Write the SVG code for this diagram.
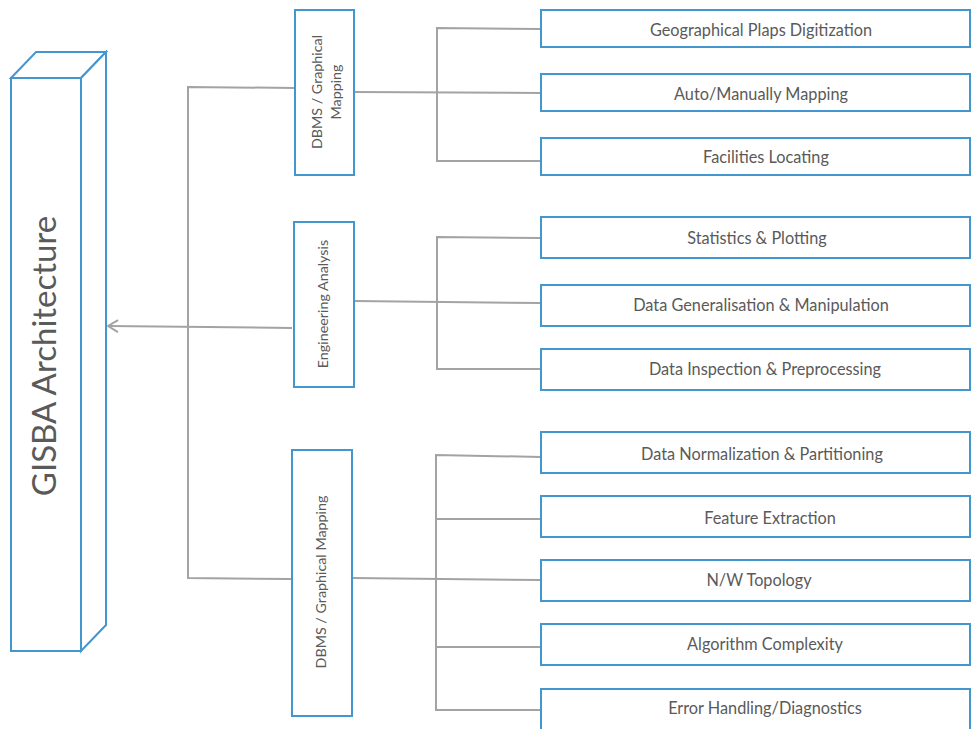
<svg xmlns="http://www.w3.org/2000/svg" width="971" height="729" viewBox="0 0 971 729">
  <style>
    .box { fill: #ffffff; stroke: #4496cf; stroke-width: 2; }
    .line { fill: none; stroke: #a3a3a3; stroke-width: 2; }
    .leaf { font-family: Lato, "Liberation Sans", sans-serif; font-size: 16.3px; fill: #5a5a5a; text-anchor: middle; dominant-baseline: central; }
    .grp { font-family: Lato, "Liberation Sans", sans-serif; font-size: 14.3px; fill: #5a5a5a; text-anchor: middle; dominant-baseline: central; }
    .title { font-family: Lato, "Liberation Sans", sans-serif; font-size: 33px; fill: #5a5a5a; text-anchor: middle; dominant-baseline: central; }
  </style>
  <defs>
    <marker id="open-arrow" viewBox="0 0 12 14" refX="11" refY="7" markerWidth="12" markerHeight="14" markerUnits="userSpaceOnUse" orient="auto">
      <path d="M1,1 L11,7 L1,13" fill="none" stroke="#a3a3a3" stroke-width="2"/>
    </marker>
  </defs>
  <rect width="971" height="729" fill="#ffffff"/>

  <!-- root cuboid -->
  <g id="root">
    <polygon class="box" points="11,78 36,52 106,52 81,78"/>
    <polygon class="box" points="81,78 106,52 106,625 81,651"/>
    <rect class="box" x="11" y="78" width="70" height="573"/>
    <text class="title" transform="translate(43,356) rotate(-90)">GISBA Architecture</text>
  </g>

  <!-- connectors -->
  <g id="connectors">
    <line class="line" x1="292" y1="328" x2="108" y2="326" marker-end="url(#open-arrow)"/>
    <polyline class="line" points="295,88 188,87 188,578 292,579"/>
    <!-- branch 1 -->
    <line class="line" x1="354" y1="92" x2="541" y2="93"/>
    <polyline class="line" points="541,29 437,28 437,161 541,161"/>
    <!-- branch 2 -->
    <line class="line" x1="354" y1="301" x2="541" y2="303"/>
    <polyline class="line" points="541,238 437,237 437,369 541,369"/>
    <!-- branch 3 -->
    <line class="line" x1="352" y1="578" x2="541" y2="580"/>
    <polyline class="line" points="541,457 436,455 436,710 541,710"/>
    <line class="line" x1="436" y1="519" x2="541" y2="519"/>
    <line class="line" x1="436" y1="647" x2="541" y2="647"/>
  </g>

  <!-- group nodes -->
  <g id="grp-dbms-top">
    <rect class="box" x="295" y="10" width="59" height="165"/>
    <text class="grp" transform="translate(316,92) rotate(-90)">DBMS / Graphical</text>
    <text class="grp" transform="translate(335,92) rotate(-90)">Mapping</text>
  </g>
  <g id="grp-engineering">
    <rect class="box" x="294" y="222" width="60" height="165"/>
    <text class="grp" transform="translate(322,304) rotate(-90)">Engineering Analysis</text>
  </g>
  <g id="grp-dbms-bottom">
    <rect class="box" x="292" y="450" width="60" height="266"/>
    <text class="grp" transform="translate(320,582) rotate(-90)">DBMS / Graphical Mapping</text>
  </g>

  <!-- leaf nodes -->
  <g id="leaf-1"><rect class="box" x="541" y="10" width="429" height="37"/><text class="leaf" x="761" y="29">Geographical Plaps Digitization</text></g>
  <g id="leaf-2"><rect class="box" x="541" y="74" width="429" height="37"/><text class="leaf" x="761" y="93">Auto/Manually Mapping</text></g>
  <g id="leaf-3"><rect class="box" x="541" y="138" width="429" height="37"/><text class="leaf" x="766" y="156">Facilities Locating</text></g>
  <g id="leaf-4"><rect class="box" x="541" y="217" width="429" height="41"/><text class="leaf" x="757" y="237">Statistics &amp; Plotting</text></g>
  <g id="leaf-5"><rect class="box" x="541" y="285" width="429" height="41"/><text class="leaf" x="761" y="304">Data Generalisation &amp; Manipulation</text></g>
  <g id="leaf-6"><rect class="box" x="541" y="349" width="429" height="41"/><text class="leaf" x="765" y="368">Data Inspection &amp; Preprocessing</text></g>
  <g id="leaf-7"><rect class="box" x="541" y="432" width="429" height="41"/><text class="leaf" x="762" y="453">Data Normalization &amp; Partitioning</text></g>
  <g id="leaf-8"><rect class="box" x="541" y="496" width="429" height="41"/><text class="leaf" x="770" y="517">Feature Extraction</text></g>
  <g id="leaf-9"><rect class="box" x="541" y="560" width="429" height="41"/><text class="leaf" x="759" y="579">N/W Topology</text></g>
  <g id="leaf-10"><rect class="box" x="541" y="624" width="429" height="41"/><text class="leaf" x="765" y="643">Algorithm Complexity</text></g>
  <g id="leaf-11"><rect class="box" x="541" y="689" width="429" height="44"/><text class="leaf" x="765" y="707">Error Handling/Diagnostics</text></g>
</svg>
